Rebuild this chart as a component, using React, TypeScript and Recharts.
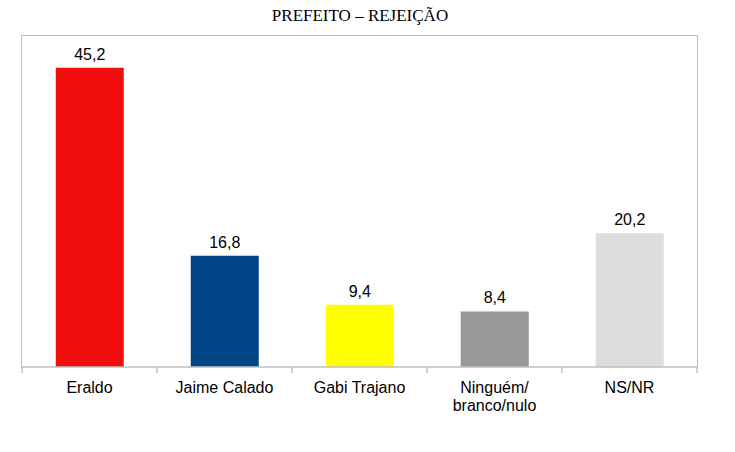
import { BarChart, Bar, XAxis, YAxis, Cell, LabelList } from "recharts"

const categories = ["Eraldo", "Jaime Calado", "Gabi Trajano", "Ninguém/\nbranco/nulo", "NS/NR"]
const values = [45.2, 16.8, 9.4, 8.4, 20.2]
const barColors = ["#f10d0c", "#004586", "#ffff00", "#999999", "#dddddd"]

const data = categories.map((name, i) => ({ name, value: values[i] }))

const W = 735
const H = 452
// plot box: x 22..697, y 36..367
const margin = { top: 36, right: 38, bottom: 55, left: 22 }
const plotW = W - margin.left - margin.right
const plotH = H - margin.top - margin.bottom - 30
const band = plotW / categories.length
const frame = "#bfbfbf"
const font = "'Liberation Sans', Arial, sans-serif"

const fmt = (v: any) => Number(v).toFixed(1).replace(".", ",")

const CategoryTick = (props: any) => {
  const { x, y, payload, index } = props
  const lines = String(payload.value).split("\n")
  const last = index === categories.length - 1
  return (
    <g>
      <line x1={x - band / 2} x2={x - band / 2} y1={y} y2={y + 6} stroke={frame} strokeWidth={1.5} />
      {last && <line x1={x + band / 2} x2={x + band / 2} y1={y} y2={y + 6} stroke={frame} strokeWidth={1.5} />}
      <text x={x} y={y + 26} textAnchor="middle" fontSize={16} fontFamily={font} fill="#000">
        {lines.map((l, i) => (
          <tspan key={i} x={x} dy={i === 0 ? 0 : 18}>
            {l}
          </tspan>
        ))}
      </text>
    </g>
  )
}

export default function App() {
  return (
    <div style={{ position: "absolute", left: 0, top: 0, width: W, height: H, background: "#fff" }}>
      <div
        style={{
          position: "absolute",
          top: 6,
          left: 0,
          width: 720,
          textAlign: "center",
          fontFamily: "'Liberation Serif', 'Times New Roman', serif",
          fontSize: 17,
          color: "#000",
        }}
      >
        PREFEITO – REJEIÇÃO
      </div>
      <div
        style={{
          position: "absolute",
          left: margin.left - 1,
          top: margin.top - 1,
          width: plotW + 2,
          height: plotH + 1,
          borderTop: `1px solid ${frame}`,
          borderLeft: `1px solid ${frame}`,
          borderRight: `1px solid ${frame}`,
          boxSizing: "border-box",
        }}
      />
      <div style={{ position: "absolute", left: 0, top: 0 }}>
        <BarChart width={W} height={H} data={data} margin={margin} barCategoryGap="25%">
          <XAxis
            dataKey="name"
            height={30}
            tick={<CategoryTick />}
            tickLine={false}
            tickSize={0}
            tickMargin={0}
            interval={0}
            axisLine={{ stroke: frame, strokeWidth: 1.5 }}
          />
          <YAxis domain={[0, 50]} hide />
          <Bar dataKey="value" isAnimationActive={false}>
            {data.map((d, i) => (
              <Cell key={d.name} fill={barColors[i]} />
            ))}
            <LabelList dataKey="value" position="top" offset={8} formatter={fmt} fill="#000" fontSize={16} fontFamily={font} />
          </Bar>
        </BarChart>
      </div>
    </div>
  )
}
